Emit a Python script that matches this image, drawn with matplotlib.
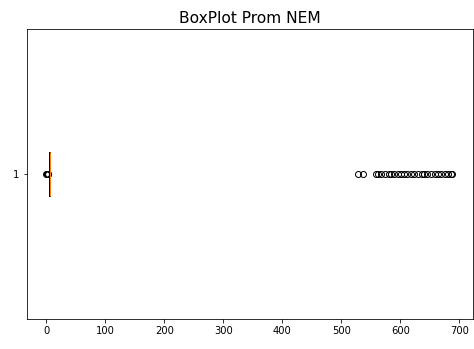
import numpy as np
import matplotlib.pyplot as plt

# resumen del promedio NEM (escala 1-7, con algunos puntajes mal cargados)
q1, mediana, q3 = 5.3, 6.0, 6.5
bigote_inf, bigote_sup = 4.0, 7.0
atipicos_bajos = [0.0, 1.0, 2.0, 3.0, 3.5]
atipicos_altos = [528, 537, 558, 563, 568, 574, 580, 585, 590, 596, 602, 607,
                  612, 618, 624, 630, 636, 641, 646, 652, 658, 664, 669, 675,
                  680, 686, 688]

stats = [{
    'med': mediana, 'q1': q1, 'q3': q3,
    'whislo': bigote_inf, 'whishi': bigote_sup,
    'fliers': np.array(atipicos_bajos + atipicos_altos),
    'label': '1',
}]

fig = plt.figure(figsize=(474 / 72, 349 / 72), dpi=72)
ax = fig.add_axes([26.7 / 474, 1 - 319.3 / 349, 446 / 474, 290.6 / 349])
ax.bxp(stats, vert=False, widths=0.15)
ax.set_xlim(-33.2, 722.7)
ax.set_ylim(0.5, 1.5)
ax.set_title('BoxPlot Prom NEM', fontsize=15.5)

fig.savefig('out.png', dpi=72)
